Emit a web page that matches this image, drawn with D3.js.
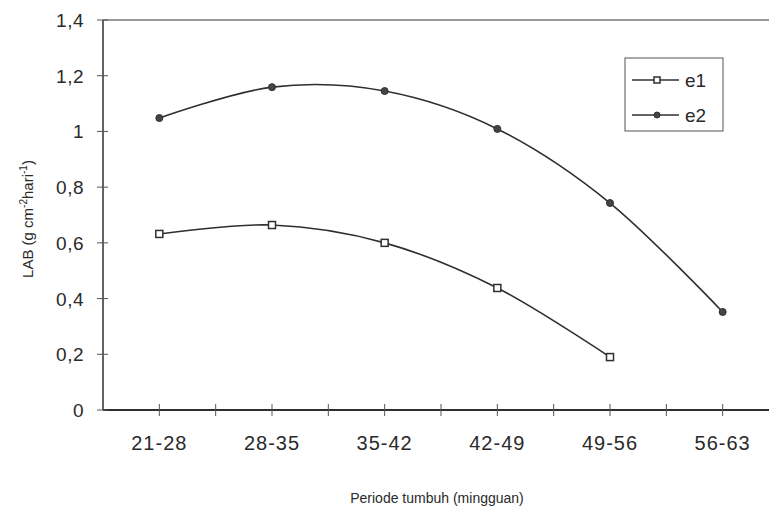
<!DOCTYPE html>
<html>
<head>
    <meta charset="utf-8">
    <script src="https://d3js.org/d3.v7.min.js"></script>
    <style type="text/css">
        html, body { margin: 0; background: #fff; }
        text { font-family: "Liberation Sans", Arial, sans-serif; fill: #2a2a2a; }
    </style>
</head>
<body>
<svg id="chart" width="769" height="515"></svg>
<script type="text/javascript">
    var periods = ["21-28", "28-35", "35-42", "42-49", "49-56", "56-63"];
    var e1 = [0.632, 0.664, 0.600, 0.438, 0.190];
    var e2 = [1.048, 1.159, 1.145, 1.009, 0.743, 0.352];
    var yTicks = [0, 0.2, 0.4, 0.6, 0.8, 1, 1.2, 1.4];

    var svg = d3.select("#chart");
    var ink = "#2f2f2f";

    var x = d3.scaleLinear().domain([-0.5, 5.5]).range([103, 779]);
    var y = d3.scaleLinear().domain([0, 1.4]).range([410, 20]);
    var fmt = function(d) { return String(d).replace(".", ","); };

    // frame: left, top, bottom
    svg.append("line").attr("x1", x(-0.5)).attr("x2", x(-0.5)).attr("y1", y(1.4)).attr("y2", y(0))
        .attr("stroke", ink).attr("stroke-width", 1.5);
    svg.append("line").attr("x1", x(-0.5)).attr("x2", 769).attr("y1", y(1.4)).attr("y2", y(1.4))
        .attr("stroke", "#777").attr("stroke-width", 1.5);
    svg.append("line").attr("x1", x(-0.5)).attr("x2", 769).attr("y1", y(0)).attr("y2", y(0))
        .attr("stroke", ink).attr("stroke-width", 2);

    // y ticks (crossing)
    svg.selectAll(".ytick").data(yTicks).enter().append("line")
        .attr("x1", x(-0.5) - 6).attr("x2", x(-0.5) + 5)
        .attr("y1", function(d) { return y(d); }).attr("y2", function(d) { return y(d); })
        .attr("stroke", "#555").attr("stroke-width", 1);
    svg.selectAll(".ylab").data(yTicks).enter().append("text")
        .attr("x", 84).attr("y", function(d) { return y(d) + 7; })
        .attr("text-anchor", "end").attr("font-size", 19).attr("letter-spacing", 0.5)
        .text(fmt);

    // x ticks every half step
    var xt = d3.range(0, 11).map(function(i) { return i * 0.5; });
    svg.selectAll(".xtick").data(xt).enter().append("line")
        .attr("x1", function(d) { return x(d); }).attr("x2", function(d) { return x(d); })
        .attr("y1", y(0) - 6).attr("y2", y(0) + 6)
        .attr("stroke", "#555").attr("stroke-width", 1);
    svg.selectAll(".xlab").data(periods).enter().append("text")
        .attr("x", function(d, i) { return x(i); }).attr("y", 450)
        .attr("text-anchor", "middle").attr("font-size", 20).attr("letter-spacing", 1)
        .text(function(d) { return d; });

    // axis titles
    svg.append("text").attr("x", 437).attr("y", 503).attr("text-anchor", "middle")
        .attr("font-size", 14).text("Periode tumbuh (mingguan)");
    var yl = svg.append("text").attr("transform", "translate(33,219) rotate(-90)")
        .attr("text-anchor", "middle").attr("font-size", 15);
    yl.append("tspan").text("LAB (g cm");
    yl.append("tspan").attr("font-size", 10).attr("dy", -6).text("-2");
    yl.append("tspan").attr("dy", 6).text("hari");
    yl.append("tspan").attr("font-size", 10).attr("dy", -6).text("-1");
    yl.append("tspan").attr("dy", 6).text(")");

    var line = d3.line()
        .x(function(d, i) { return x(i); })
        .y(function(d) { return y(d); })
        .curve(d3.curveCardinal.tension(0));

    svg.append("path").datum(e1).attr("d", line).attr("fill", "none")
        .attr("stroke", ink).attr("stroke-width", 1.6);
    svg.append("path").datum(e2).attr("d", line).attr("fill", "none")
        .attr("stroke", ink).attr("stroke-width", 1.6);

    svg.selectAll(".m1").data(e1).enter().append("rect")
        .attr("x", function(d, i) { return x(i) - 3.5; }).attr("y", function(d) { return y(d) - 3.5; })
        .attr("width", 7).attr("height", 7)
        .attr("fill", "#fff").attr("stroke", ink).attr("stroke-width", 1.5);
    svg.selectAll(".m2").data(e2).enter().append("circle")
        .attr("cx", function(d, i) { return x(i); }).attr("cy", function(d) { return y(d); })
        .attr("r", 3.5).attr("fill", "#444").attr("stroke", ink).attr("stroke-width", 1);

    // legend
    var lg = svg.append("g");
    lg.append("rect").attr("x", 625).attr("y", 58).attr("width", 98).attr("height", 73)
        .attr("fill", "#fff").attr("stroke", "#555").attr("stroke-width", 1);
    lg.append("line").attr("x1", 632).attr("x2", 679).attr("y1", 80).attr("y2", 80)
        .attr("stroke", ink).attr("stroke-width", 1.6);
    lg.append("rect").attr("x", 654).attr("y", 77).attr("width", 6).attr("height", 6)
        .attr("fill", "#fff").attr("stroke", ink).attr("stroke-width", 1.5);
    lg.append("text").attr("x", 685).attr("y", 87).attr("font-size", 19).text("e1");
    lg.append("line").attr("x1", 632).attr("x2", 679).attr("y1", 115).attr("y2", 115)
        .attr("stroke", ink).attr("stroke-width", 1.6);
    lg.append("circle").attr("cx", 657).attr("cy", 115).attr("r", 3)
        .attr("fill", "#444").attr("stroke", ink);
    lg.append("text").attr("x", 685).attr("y", 122).attr("font-size", 19).text("e2");
</script>
</body>
</html>
